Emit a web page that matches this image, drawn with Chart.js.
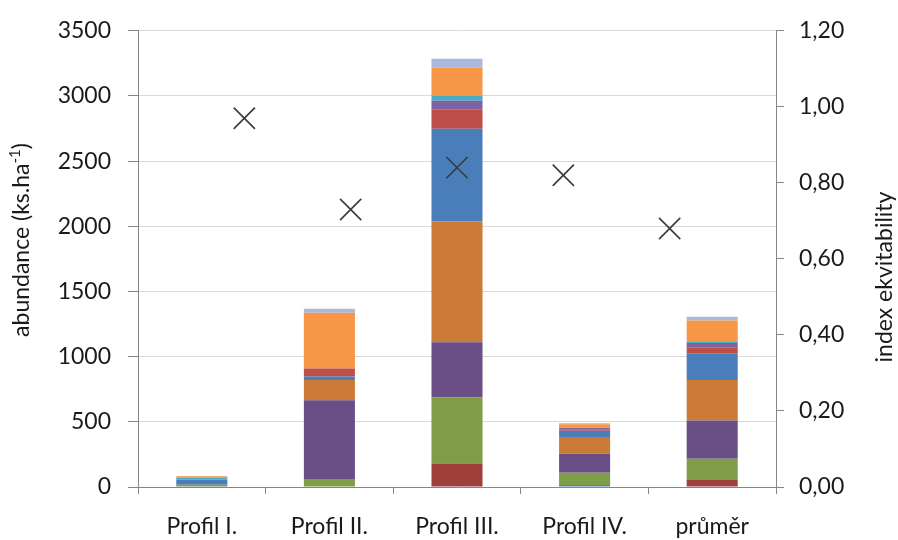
<!DOCTYPE html>
<html>
<head>
<meta charset="utf-8">
<script src="https://cdn.jsdelivr.net/npm/chart.js@4.4.1/dist/chart.umd.min.js"></script>
<style>
  html, body { margin: 0; padding: 0; background: #ffffff; }
  #wrap { width: 898px; height: 540px; position: relative; }
</style>
</head>
<body>
<div id="wrap"><canvas id="c" width="898" height="540"></canvas></div>
<script>
// Profiles along the transect plus their mean
const categories = ['Profil I.', 'Profil II.', 'Profil III.', 'Profil IV.', 'průměr'];

// Abundance per species group (ks.ha-1), stacked bottom to top
const sp01 = [0, 0, 0, 15, 4];
const sp02 = [0, 0, 180, 0, 50];
const sp03 = [18, 61, 506, 95, 162];
const sp04 = [0, 605, 425, 146, 294];
const sp05 = [0, 154, 926, 127, 311];
const sp06 = [40, 28, 712, 48, 205];
const sp07 = [0, 61, 149, 13, 46];
const sp08 = [0, 0, 66, 8, 32];
const sp09 = [15, 0, 38, 5, 8];
const sp10 = [10, 427, 215, 25, 165];
const sp11 = [2, 31, 68, 8, 30];

// Evenness index per profile (secondary axis)
const evenness = [0.97, 0.73, 0.84, 0.82, 0.68];
const evennessPos = [1, 2, 3, 4, 5];

// Axis ticks
const leftTicks = { min: 0, max: 3500, step: 500 };
const rightTicks = { min: 0, max: 1.2, step: 0.2 };

const seriesList = [sp01, sp02, sp03, sp04, sp05, sp06, sp07, sp08, sp09, sp10, sp11];
const colors = ['#4F81BD', '#9E3F3C', '#7F9C48', '#6A4F87', '#CB7A38', '#4A7EBB',
                '#BF4D4A', '#7F63A1', '#4BACC6', '#F79646', '#A9B9D9'];

const FONT = 'Lato, "Liberation Sans", sans-serif';
const FS = 23;
const TEXT = '#1a1a1a';
const AXIS = '#868686';
const GRID = '#D9D9D9';

const barSets = seriesList.map((vals, i) => ({
  label: 'sp' + (i + 1),
  data: vals,
  backgroundColor: colors[i],
  borderWidth: 0,
  xAxisID: 'x',
  yAxisID: 'y',
  grouped: false,
  barPercentage: 0.4,
  categoryPercentage: 1.0,
  order: 2
}));

const scatterSet = {
  type: 'scatter',
  label: 'index ekvitability',
  data: evennessPos.map((x, i) => ({ x: x, y: evenness[i] })),
  xAxisID: 'x2',
  yAxisID: 'y1',
  pointStyle: 'crossRot',
  pointRadius: 15,
  pointHoverRadius: 15,
  borderColor: '#3a3a3a',
  backgroundColor: '#3a3a3a',
  pointBorderWidth: 1.6,
  order: 1
};

// Rotated axis titles (both read bottom-to-top)
const axisTitles = {
  id: 'axisTitles',
  afterDraw(chart) {
    const ctx = chart.ctx;
    ctx.save();
    ctx.fillStyle = TEXT;
    ctx.textBaseline = 'middle';
    ctx.textAlign = 'left';

    // left: abundance (ks.ha-1) with superscript
    const parts = [
      { t: 'abundance (ks.ha', f: FS + 'px ' + FONT, dy: 0 },
      { t: '-1', f: '15px ' + FONT, dy: -7 },
      { t: ')', f: FS + 'px ' + FONT, dy: 0 }
    ];
    let total = 0;
    parts.forEach(p => { ctx.font = p.f; p.w = ctx.measureText(p.t).width; total += p.w; });
    ctx.save();
    ctx.translate(22, 240);
    ctx.rotate(-Math.PI / 2);
    let x = -total / 2;
    parts.forEach(p => { ctx.font = p.f; ctx.fillText(p.t, x, p.dy); x += p.w; });
    ctx.restore();

    // right: index ekvitability
    ctx.save();
    ctx.font = FS + 'px ' + FONT;
    ctx.textAlign = 'center';
    ctx.translate(885, 277);
    ctx.rotate(-Math.PI / 2);
    ctx.fillText('index ekvitability', 0, 0);
    ctx.restore();

    ctx.restore();
  }
};

new Chart(document.getElementById('c'), {
  type: 'bar',
  data: { labels: categories, datasets: [...barSets, scatterSet] },
  options: {
    responsive: false,
    animation: false,
    devicePixelRatio: 1,
    layout: { padding: { top: 26, left: 0, right: 0, bottom: 0 } },
    plugins: { legend: { display: false }, tooltip: { enabled: false } },
    scales: {
      x: {
        type: 'category',
        stacked: true,
        offset: true,
        grid: { offset: true, drawOnChartArea: false, drawTicks: true, tickLength: 7, tickColor: AXIS, lineWidth: 1 },
        border: { display: true, color: AXIS, width: 1 },
        ticks: { color: TEXT, font: { family: FONT, size: FS }, padding: 19, maxRotation: 0 },
        afterFit(s) { s.height = 53; }
      },
      x2: {
        type: 'linear',
        display: false,
        offset: false,
        min: 0,
        max: 6
      },
      y: {
        position: 'left',
        stacked: true,
        min: leftTicks.min,
        max: leftTicks.max,
        ticks: {
          stepSize: leftTicks.step,
          color: TEXT,
          font: { family: FONT, size: FS },
          padding: 17,
          callback: v => String(v)
        },
        grid: { color: GRID, lineWidth: 1, tickLength: 10, tickColor: AXIS },
        border: { display: true, color: AXIS, width: 1 },
        afterFit(s) { s.width = 138; }
      },
      y1: {
        position: 'right',
        min: rightTicks.min,
        max: rightTicks.max,
        ticks: {
          stepSize: rightTicks.step,
          color: TEXT,
          font: { family: FONT, size: FS },
          padding: 15,
          callback: v => v.toFixed(2).replace('.', ',')
        },
        grid: { drawOnChartArea: false, tickLength: 8, tickColor: AXIS },
        border: { display: true, color: AXIS, width: 1 },
        afterFit(s) { s.width = 122; }
      }
    }
  },
  plugins: [axisTitles]
});
</script>
</body>
</html>
